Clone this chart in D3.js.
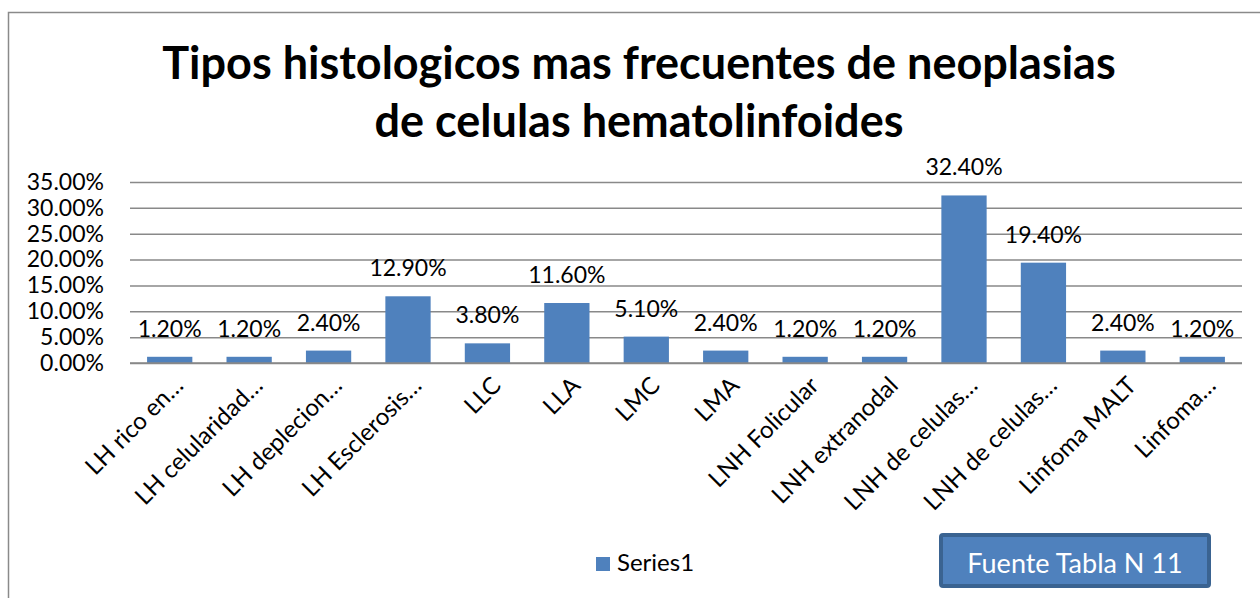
<!DOCTYPE html>
<html>
<head>
<meta charset="utf-8">
<script src="https://cdn.jsdelivr.net/npm/d3@7"></script>
<style>
  body { margin: 0; background: #fff; }
  svg { font-family: Lato, "Open Sans", sans-serif; }
</style>
</head>
<body>
<div id="chart"></div>
<script>
// Data
const categories = [
    "LH rico en…", "LH celularidad…", "LH deplecion…", "LH Esclerosis…",
    "LLC", "LLA", "LMC", "LMA", "LNH Folicular", "LNH extranodal",
    "LNH de celulas…", "LNH de celulas…", "Linfoma MALT", "Linfoma…"
];
const values = [1.2, 1.2, 2.4, 12.9, 3.8, 11.6, 5.1, 2.4, 1.2, 1.2, 32.4, 19.4, 2.4, 1.2];
const yTicks = [0, 5, 10, 15, 20, 25, 30, 35];
const titleLines = ["Tipos histologicos mas frecuentes de neoplasias", "de celulas hematolinfoides"];
const seriesName = "Series1";
const sourceNote = "Fuente Tabla N 11";

const W = 1260, H = 598;
const plot = { left: 130, right: 1242, top: 182, bottom: 363 };
const barColor = "#4f81bd";
const gridColor = "#898989";

const svg = d3.select("#chart").append("svg")
    .attr("width", W)
    .attr("height", H);

// chart frame
svg.append("rect")
    .attr("x", 8.5).attr("y", 12.5)
    .attr("width", W + 10).attr("height", H)
    .attr("fill", "#fff")
    .attr("stroke", "#8a8a8a")
    .attr("stroke-width", 1.5);

// title
svg.append("text")
    .attr("x", 639)
    .attr("text-anchor", "middle")
    .style("font-weight", "bold")
    .style("font-size", "45px")
    .selectAll("tspan")
    .data(titleLines)
    .enter().append("tspan")
    .attr("x", 639)
    .attr("y", (d, i) => 79 + i * 58)
    .text(d => d);

const x = d3.scaleBand()
    .domain(d3.range(categories.length))
    .range([plot.left, plot.right])
    .paddingInner(0.43)
    .paddingOuter(0.215);

const y = d3.scaleLinear()
    .domain([0, 35])
    .range([plot.bottom, plot.top]);

// gridlines
svg.append("g")
    .attr("transform", `translate(${plot.left},0)`)
    .call(d3.axisLeft(y).tickValues(yTicks).tickSize(-(plot.right - plot.left)).tickFormat(""))
    .call(g => g.select(".domain").remove())
    .call(g => g.selectAll("line").attr("stroke", gridColor).attr("stroke-width", 1.5));

// y tick labels
svg.append("g")
    .attr("transform", `translate(104,0)`)
    .call(d3.axisLeft(y).tickValues(yTicks).tickSize(0).tickPadding(0).tickFormat(d => d.toFixed(2) + "%"))
    .call(g => g.select(".domain").remove())
    .call(g => g.selectAll("text")
        .attr("fill", "#000")
        .style("font-size", "23px")
        .style("font-family", "Lato, sans-serif"));

// bars
svg.append("g").selectAll("rect")
    .data(values)
    .enter().append("rect")
    .attr("x", (d, i) => x(i))
    .attr("y", d => y(d))
    .attr("width", x.bandwidth())
    .attr("height", d => y(0) - y(d))
    .attr("fill", barColor);

// baseline axis
svg.append("line")
    .attr("x1", plot.left).attr("x2", plot.right)
    .attr("y1", y(0)).attr("y2", y(0))
    .attr("stroke", gridColor)
    .attr("stroke-width", 1.5);

// data labels
svg.append("g").selectAll("text")
    .data(values)
    .enter().append("text")
    .attr("x", (d, i) => x(i) + x.bandwidth() / 2)
    .attr("y", d => y(d) - 20)
    .attr("text-anchor", "middle")
    .style("font-size", "23px")
    .text(d => d.toFixed(2) + "%");

// category labels
svg.append("g").selectAll("text")
    .data(categories)
    .enter().append("text")
    .attr("transform", (d, i) => `translate(${x(i) + x.bandwidth() / 2 + 15},387) rotate(-45)`)
    .attr("text-anchor", "end")
    .style("font-size", "24px")
    .text(d => d);

// legend
const legend = svg.append("g").attr("transform", "translate(596,557)");
legend.append("rect")
    .attr("width", 14).attr("height", 14)
    .attr("fill", barColor);
legend.append("text")
    .attr("x", 21).attr("y", 14)
    .style("font-size", "24px")
    .text(seriesName);

// source box
const box = svg.append("g").attr("transform", "translate(941,535)");
box.append("rect")
    .attr("width", 268).attr("height", 51)
    .attr("rx", 2)
    .attr("fill", barColor)
    .attr("stroke", "#3a6391")
    .attr("stroke-width", 4);
box.append("text")
    .attr("x", 134).attr("y", 38)
    .attr("text-anchor", "middle")
    .attr("fill", "#fff")
    .style("font-size", "27px")
    .text(sourceNote);
</script>
</body>
</html>
